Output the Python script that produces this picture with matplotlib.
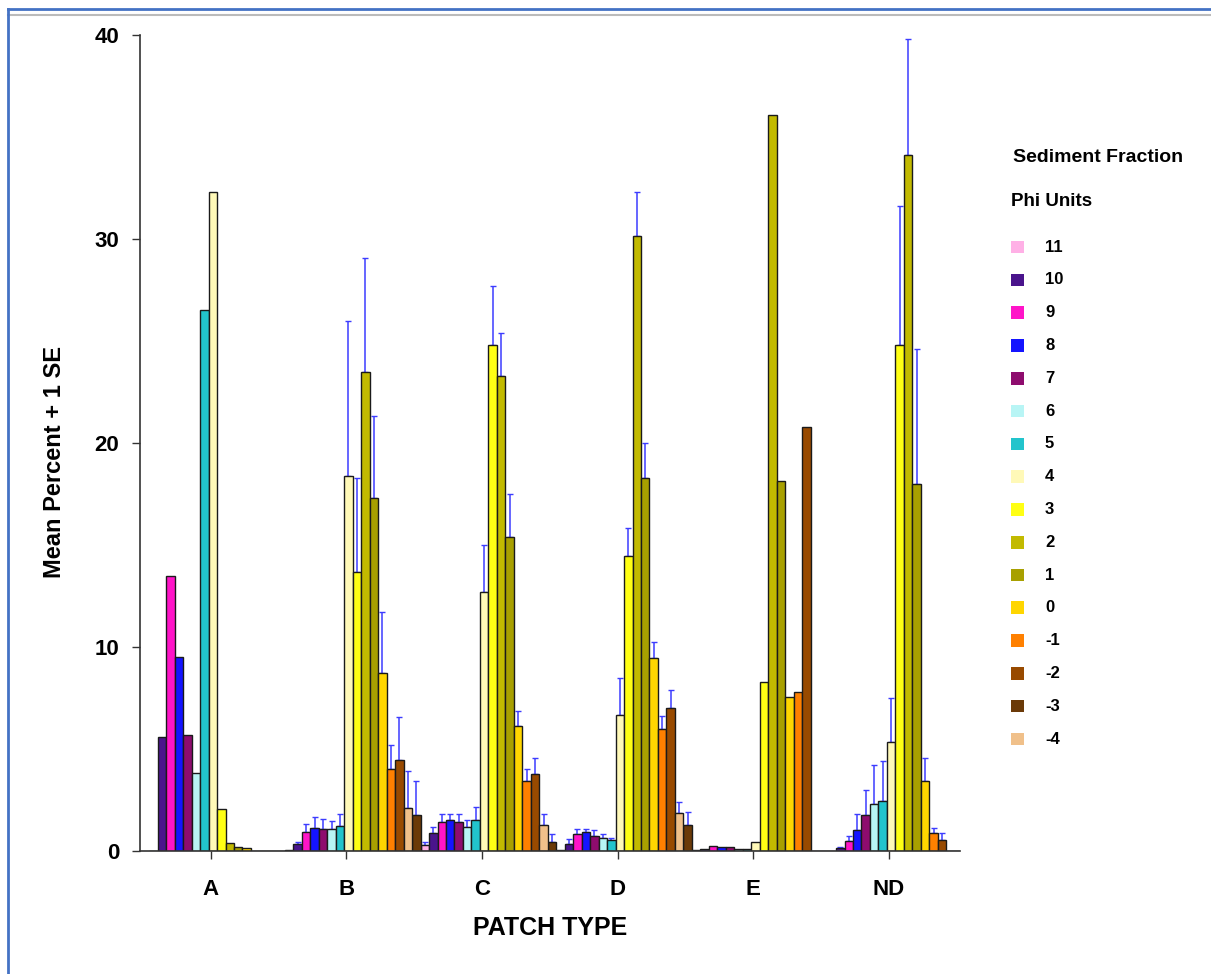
import matplotlib
matplotlib.use("Agg")
import matplotlib.pyplot as plt
from matplotlib.lines import Line2D
from matplotlib.patches import Rectangle
import numpy as np

plt.rcParams['font.family'] = ['Liberation Sans', 'DejaVu Sans']
plt.rcParams['font.weight'] = 'bold'

# ---------------- data ----------------
groups = ["A", "B", "C", "D", "E", "ND"]
phi_units = ["11", "10", "9", "8", "7", "6", "5", "4", "3", "2", "1", "0", "-1", "-2", "-3", "-4"]
# bar position inside each group (the two coarsest classes appear swapped in the bars)
bar_position = [0, 1, 2, 3, 4, 5, 6, 7, 8, 9, 10, 11, 12, 13, 15, 14]
phi_colors = ["#FFB0E6", "#4A148C", "#FF14C8", "#1414FF", "#8E0C6E", "#B8F5F5",
              "#22C4CC", "#FFF9B8", "#FFFF14", "#C2BA00", "#A8A000", "#FFD600",
              "#FF8000", "#984A00", "#6B3A08", "#F0C08A"]

mean_11 = [0.0, 0.05, 0.28, 0.05, 0.05, 0.0]
mean_10 = [5.6, 0.36, 0.89, 0.36, 0.10, 0.16]
mean_9 = [13.5, 0.95, 1.44, 0.83, 0.25, 0.47]
mean_8 = [9.5, 1.14, 1.53, 0.94, 0.20, 1.01]
mean_7 = [5.7, 1.08, 1.44, 0.74, 0.20, 1.77]
mean_6 = [3.84, 1.08, 1.20, 0.62, 0.10, 2.31]
mean_5 = [26.5, 1.24, 1.53, 0.53, 0.10, 2.44]
mean_4 = [32.3, 18.4, 12.7, 6.68, 0.42, 5.35]
mean_3 = [2.04, 13.7, 24.8, 14.45, 8.3, 24.8]
mean_2 = [0.38, 23.5, 23.3, 30.15, 36.1, 34.1]
mean_1 = [0.18, 17.3, 15.4, 18.3, 18.15, 18.0]
mean_0 = [0.13, 8.72, 6.14, 9.45, 7.53, 3.45]
mean_m1 = [0.02, 4.04, 3.45, 5.96, 7.77, 0.86]
mean_m2 = [0.02, 4.44, 3.78, 7.02, 20.76, 0.55]
mean_m3 = [0.02, 1.76, 0.46, 1.28, 0.0, 0.0]
mean_m4 = [0.02, 2.13, 1.29, 1.85, 0.0, 0.0]

se_11 = [0, 0, 0.14, 0, 0, 0]
se_10 = [0, 0.10, 0.31, 0.21, 0, 0.05]
se_9 = [0, 0.39, 0.35, 0.23, 0, 0.28]
se_8 = [0, 0.54, 0.26, 0.16, 0, 0.78]
se_7 = [0, 0.50, 0.35, 0.30, 0, 1.24]
se_6 = [0, 0.40, 0.33, 0.23, 0, 1.92]
se_5 = [0, 0.57, 0.65, 0.11, 0, 1.95]
se_4 = [0, 7.6, 2.3, 1.81, 0, 2.15]
se_3 = [0, 4.6, 2.9, 1.4, 0, 6.8]
se_2 = [0, 5.55, 2.1, 2.15, 0, 5.7]
se_1 = [0, 4.0, 2.1, 1.7, 0, 6.6]
se_0 = [0, 3.0, 0.74, 0.81, 0, 1.12]
se_m1 = [0, 1.15, 0.55, 0.68, 0, 0.26]
se_m2 = [0, 2.11, 0.80, 0.89, 0, 0.33]
se_m3 = [0, 1.68, 0.37, 0.63, 0, 0]
se_m4 = [0, 1.81, 0.50, 0.53, 0, 0]

means = [mean_11, mean_10, mean_9, mean_8, mean_7, mean_6, mean_5, mean_4,
         mean_3, mean_2, mean_1, mean_0, mean_m1, mean_m2, mean_m3, mean_m4]
ses = [se_11, se_10, se_9, se_8, se_7, se_6, se_5, se_4,
       se_3, se_2, se_1, se_0, se_m1, se_m2, se_m3, se_m4]

# ---------------- figure ----------------
W, H = 1211, 974
fig = plt.figure(figsize=(W / 100, H / 100), dpi=100)
fig.patch.set_facecolor("white")

ax_l, ax_r, ax_b, ax_t = 140, 960, 851, 35
ax = fig.add_axes([ax_l / W, 1 - ax_b / H, (ax_r - ax_l) / W, (ax_b - ax_t) / H])

n = len(phi_units)
width = 1.0 / n
x = np.arange(len(groups))
for k in range(n):
    pos = x + (bar_position[k] - 6.75) * width
    ax.bar(pos, means[k], width=width, color=phi_colors[k], edgecolor="#1a1a1a",
           linewidth=1.0, zorder=2)
    se = np.array(ses[k], dtype=float)
    m = np.array(means[k], dtype=float)
    mask = se > 0
    if mask.any():
        ax.errorbar(pos[mask], m[mask] + se[mask] / 2, yerr=se[mask] / 2, fmt="none",
                    ecolor="#3C3CFF", elinewidth=1.1, capsize=2, capthick=1.0, zorder=1)

ax.set_xlim(-0.521, 5.523)
ax.set_ylim(0, 40)
ax.set_yticks([0, 10, 20, 30, 40])
ax.set_xticks(x)
ax.set_xticklabels(groups)
for s in ["top", "right"]:
    ax.spines[s].set_visible(False)
for s in ["left", "bottom"]:
    ax.spines[s].set_color("#333333")
    ax.spines[s].set_linewidth(1.2)
ax.tick_params(axis="y", direction="out", length=6, width=1.0, color="#333333",
               labelsize=16, pad=9)
ax.tick_params(axis="x", direction="out", length=6, width=1.0, color="#333333",
               labelsize=16, pad=14)
for lab in ax.get_xticklabels() + ax.get_yticklabels():
    lab.set_fontweight("bold")

fig.text(55 / W, 1 - 462 / H, "Mean Percent + 1 SE", rotation=90, fontsize=17,
         fontweight="bold", ha="center", va="center")
fig.text(550 / W, 1 - 928 / H, "PATCH TYPE", fontsize=18, fontweight="bold",
         ha="center", va="center")

# legend
fig.text(1013 / W, 1 - 157 / H, "Sediment Fraction", fontsize=14, fontweight="bold",
         ha="left", va="center")
fig.text(1011 / W, 1 - 201 / H, "Phi Units", fontsize=13.5, fontweight="bold",
         ha="left", va="center")
y0, dy = 247, 32.8
for k in range(n):
    yc = y0 + k * dy
    fig.patches.append(Rectangle(((1011) / W, 1 - (yc + 6.3) / H), 12.6 / W, 12.6 / H,
                                 transform=fig.transFigure, facecolor=phi_colors[k],
                                 edgecolor="none"))
    fig.text(1045 / W, 1 - yc / H, phi_units[k], fontsize=12, fontweight="bold",
             ha="left", va="center")

# border lines
fig.add_artist(Line2D([8 / W, 1], [1 - 9 / H, 1 - 9 / H], color="#4472C4", lw=2,
                      transform=fig.transFigure))
fig.add_artist(Line2D([8 / W, 1], [1 - 15 / H, 1 - 15 / H], color="#BBBBBB", lw=1.5,
                      transform=fig.transFigure))
fig.add_artist(Line2D([8 / W, 8 / W], [0, 1 - 9 / H], color="#4472C4", lw=2,
                      transform=fig.transFigure))

fig.savefig("out.png", dpi=100, facecolor="white")
